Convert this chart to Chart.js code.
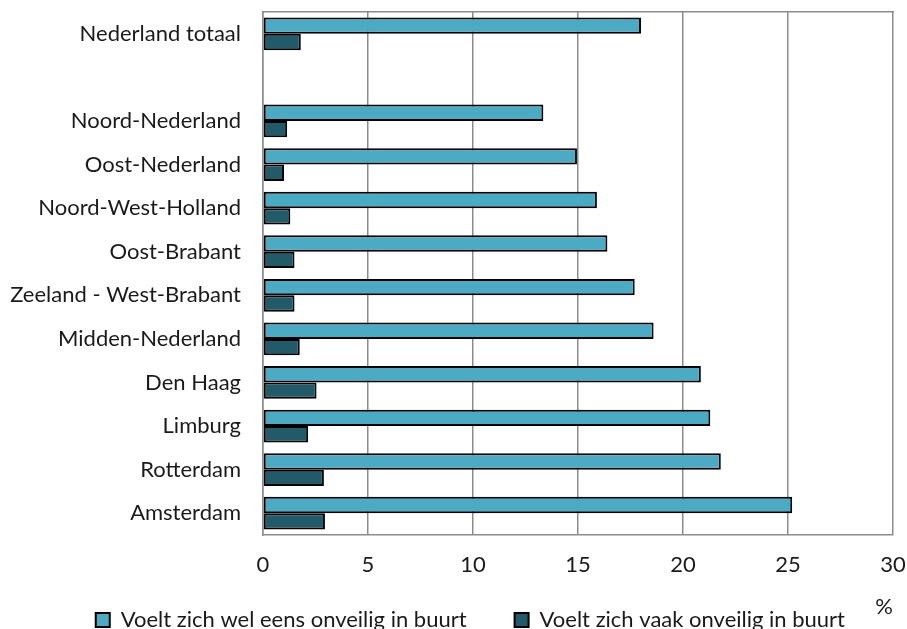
<!DOCTYPE html>
<html>
<head>
<meta charset="utf-8">
<script src="https://cdn.jsdelivr.net/npm/chart.js@4/dist/chart.umd.min.js"></script>
<style>
  html, body { margin: 0; padding: 0; background: #fff; overflow: hidden; }
  #wrap { width: 907px; height: 641px; position: relative; }
</style>
</head>
<body>
<div id="wrap"><canvas id="chart"></canvas></div>
<script>
const regions = ['Nederland totaal', '', 'Noord-Nederland', 'Oost-Nederland', 'Noord-West-Holland',
    'Oost-Brabant', 'Zeeland - West-Brabant', 'Midden-Nederland', 'Den Haag', 'Limburg',
    'Rotterdam', 'Amsterdam'];
const welEens = [18.0, null, 13.35, 14.95, 15.9, 16.4, 17.7, 18.6, 20.85, 21.3, 21.8, 25.2];
const vaak = [1.8, null, 1.15, 1.0, 1.3, 1.5, 1.5, 1.75, 2.55, 2.15, 2.9, 2.95];
const xTicks = [0, 5, 10, 15, 20, 25, 30];

const font = "Lato, 'Liberation Sans', sans-serif";
const textColor = '#1a1a1a';
const gridColor = '#8c8c8c';

const ctx = document.getElementById('chart');
new Chart(ctx, {
    type: 'bar',
    data: {
        labels: regions,
        datasets: [{
            label: 'Voelt zich wel eens onveilig in buurt',
            data: welEens,
            backgroundColor: '#4babc5',
            borderColor: '#000',
            borderWidth: 2,
            borderSkipped: false
        }, {
            label: 'Voelt zich vaak onveilig in buurt',
            data: vaak,
            backgroundColor: '#215a69',
            borderColor: '#000',
            borderWidth: 2,
            borderSkipped: false
        }]
    },
    options: {
        indexAxis: 'y',
        animation: false,
        responsive: true,
        maintainAspectRatio: false,
        layout: { padding: { top: 12, right: 14, left: 0, bottom: 0 } },
        datasets: { bar: { barPercentage: 1, categoryPercentage: 0.75 } },
        scales: {
            x: {
                min: 0, max: 30,
                afterBuildTicks: scale => { scale.ticks = xTicks.map(v => ({ value: v })); },
                afterFit: scale => {
                    scale.height = 26;
                    scale.paddingLeft = 0;
                    scale.paddingRight = 0;
                },
                grid: { color: gridColor, lineWidth: 1.5, drawTicks: false },
                border: { color: gridColor, width: 1.5 },
                // mirror keeps the labels from being clipped to the short axis box
                ticks: { color: textColor, font: { family: font, size: 22 }, mirror: true, padding: -43, maxRotation: 0 },
                title: {
                    display: true, text: '%', align: 'end', color: textColor,
                    font: { family: font, size: 22 }, padding: { top: 0, bottom: -59 }
                }
            },
            xTop: {
                position: 'top',
                min: 0, max: 30,
                afterFit: scale => {
                    scale.height = 0;
                    scale.paddingLeft = 0;
                    scale.paddingRight = 0;
                },
                grid: { display: false, drawTicks: false },
                border: { color: gridColor, width: 1.5 },
                ticks: { display: false }
            },
            y: {
                afterFit: scale => {
                    scale.width = 263;
                    scale.paddingTop = 0;
                    scale.paddingBottom = 0;
                },
                grid: { display: false, drawTicks: false },
                border: { color: gridColor, width: 1.5 },
                ticks: { color: textColor, font: { family: font, size: 22 }, padding: 22, autoSkip: false }
            }
        },
        plugins: {
            tooltip: { enabled: false },
            legend: {
                position: 'bottom',
                align: 'end',
                labels: {
                    color: textColor,
                    font: { family: font, size: 22 },
                    boxWidth: 14,
                    boxHeight: 14,
                    padding: 48
                }
            }
        }
    }
});
</script>
</body>
</html>
